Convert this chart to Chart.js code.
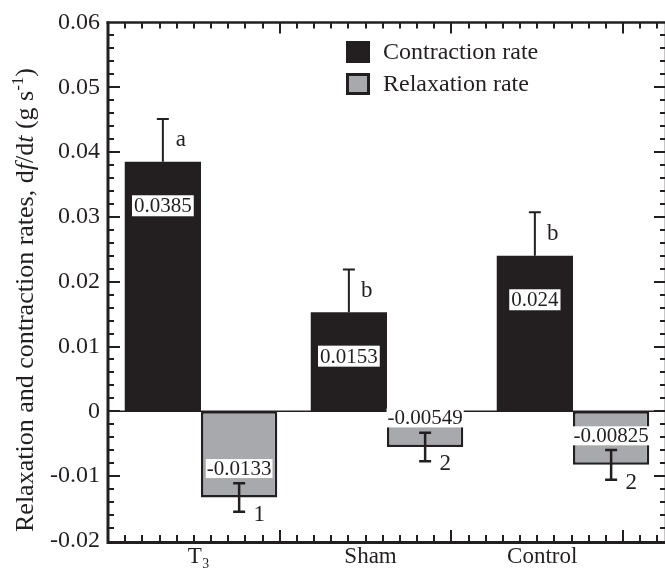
<!DOCTYPE html>
<html><head><meta charset="utf-8">
<script src="https://cdn.jsdelivr.net/npm/chart.js@4.4.1/dist/chart.umd.min.js"></script>
<style>html,body{margin:0;padding:0;overflow:hidden;background:#fff;width:665px;height:575px}
#wrap{position:relative;width:668px;height:575px}</style></head>
<body><div id="wrap"><canvas id="c" width="668" height="575"></canvas></div>
<script>
const categories = ['T\u2083', 'Sham', 'Control'];
const contractionRate = [0.0385, 0.0153, 0.024];
const contractionErr = [0.0066, 0.0066, 0.0067];
const relaxationRate = [-0.0133, -0.00549, -0.00825];
const relaxationErr = [0.0022, 0.0022, 0.0023];
const contractionLabels = ['0.0385', '0.0153', '0.024'];
const relaxationLabels = ['-0.0133', '-0.00549', '-0.00825'];
const contractionSig = ['a', 'b', 'b'];
const relaxationSig = ['1', '2', '2'];
const yTicks = [-0.02, -0.01, 0, 0.01, 0.02, 0.03, 0.04, 0.05, 0.06];
const xLabelPos = [0.5, 1.5, 2.5];

const INK = '#231f20';
const GRAY = '#a7a9ac';
const SERIF = '"Liberation Serif", "Times New Roman", serif';

function fmt(v){ const r = Math.round(v*100)/100; return r === 0 ? '0' : r.toFixed(2); }

const decor = {
  id: 'decor',
  afterDatasetsDraw(chart){
    const {ctx, chartArea: a, scales} = chart;
    const y = scales.y;
    ctx.save();
    ctx.strokeStyle = INK; ctx.fillStyle = INK;
    const y0 = y.getPixelForValue(0);
    ctx.lineWidth = 1.5;
    ctx.beginPath(); ctx.moveTo(a.left, y0); ctx.lineTo(a.right, y0); ctx.stroke();
    chart.data.datasets.forEach((ds, di) => {
      const meta = chart.getDatasetMeta(di);
      meta.data.forEach((el, i) => {
        const v = ds.data[i], e = ds.errors[i];
        const x = el.x;
        ctx.strokeStyle = INK; ctx.fillStyle = INK;
        if (v >= 0) {
          const yt = y.getPixelForValue(v + e);
          ctx.lineWidth = 2;
          ctx.beginPath(); ctx.moveTo(x, el.y); ctx.lineTo(x, yt);
          ctx.moveTo(x - 6, yt); ctx.lineTo(x + 6, yt); ctx.stroke();
          ctx.font = '23px ' + SERIF; ctx.textAlign = 'center'; ctx.textBaseline = 'middle';
          ctx.fillText(ds.sig[i], x + 18, (yt + el.y) / 2);
          ctx.font = '21px ' + SERIF;
          const w = ctx.measureText(ds.valueLabels[i]).width + 4;
          const cy = el.y + 44;
          ctx.fillStyle = '#fff'; ctx.fillRect(x - w/2, cy - 10.5, w, 21);
          ctx.fillStyle = INK; ctx.fillText(ds.valueLabels[i], x, cy + 1);
        } else {
          const yt = y.getPixelForValue(v + e), yb = y.getPixelForValue(v - e);
          ctx.font = '21px ' + SERIF; ctx.textAlign = 'center'; ctx.textBaseline = 'middle';
          const w = ctx.measureText(ds.valueLabels[i]).width + 2;
          const cy = el.y - 29;
          ctx.fillStyle = '#fff'; ctx.fillRect(x - w/2, cy - 9.5, w, 19);
          ctx.fillStyle = INK; ctx.fillText(ds.valueLabels[i], x, cy + 1);
          ctx.lineWidth = 2.5;
          ctx.beginPath(); ctx.moveTo(x, yt); ctx.lineTo(x, yb);
          ctx.moveTo(x - 6, yt); ctx.lineTo(x + 6, yt);
          ctx.moveTo(x - 6, yb); ctx.lineTo(x + 6, yb); ctx.stroke();
          ctx.font = '23px ' + SERIF;
          ctx.fillText(ds.sig[i], x + 20, yb + 3);
        }
      });
    });
    ctx.restore();
  },
  afterDraw(chart){
    const {ctx, chartArea: a, scales} = chart;
    const y = scales.y, xt = scales.xt;
    ctx.save();
    ctx.strokeStyle = INK; ctx.fillStyle = INK;
    ctx.lineWidth = 3;
    ctx.beginPath(); ctx.moveTo(a.left, a.top - 1); ctx.lineTo(a.left, a.bottom + 1.5); ctx.lineTo(a.right, a.bottom + 1.5); ctx.stroke();
    ctx.lineWidth = 2.5;
    ctx.beginPath(); ctx.moveTo(a.left - 1.5, a.top); ctx.lineTo(a.right, a.top); ctx.lineTo(a.right, a.bottom); ctx.stroke();
    ctx.lineWidth = 2;
    ctx.beginPath();
    for (let k = 1; k < 40; k++) {
      const v = -0.02 + k * 0.002;
      const py = Math.round(y.getPixelForValue(v));
      const len = (k % 5 === 0) ? 12 : 6;
      ctx.moveTo(a.left, py); ctx.lineTo(a.left + len, py);
      ctx.moveTo(a.right, py); ctx.lineTo(a.right - len, py);
    }
    for (let k = 1; k <= 32; k++) {
      const px = Math.round(xt.getPixelForValue(k * 0.1));
      const len = (k % 10 === 0) ? 11 : 6;
      ctx.moveTo(px, a.bottom); ctx.lineTo(px, a.bottom - len);
      ctx.moveTo(px, a.top); ctx.lineTo(px, a.top + len);
    }
    ctx.stroke();
    const ds = chart.data.datasets;
    const lx = a.left + 238;
    ctx.fillStyle = ds[0].backgroundColor; ctx.fillRect(lx, 41, 24, 22);
    ctx.fillStyle = ds[1].backgroundColor; ctx.fillRect(lx, 73, 24, 22);
    ctx.lineWidth = 3; ctx.strokeStyle = INK; ctx.strokeRect(lx + 1.5, 74.5, 21, 19);
    ctx.fillStyle = INK; ctx.font = '24px ' + SERIF; ctx.textAlign = 'left'; ctx.textBaseline = 'middle';
    ctx.fillText(ds[0].label, lx + 37, 53);
    ctx.fillText(ds[1].label, lx + 37, 85);
    const parts = [
      {t: 'Relaxation and contraction rates, d'}, {t: 'f', it: true}, {t: '/d'}, {t: 't', it: true},
      {t: ' (g s'}, {t: '-1', sup: true}, {t: ')'}
    ];
    const fs = 26;
    const fontOf = p => (p.it ? 'italic ' : '') + (p.sup ? Math.round(fs*0.65) : fs) + 'px ' + SERIF;
    let total = 0;
    parts.forEach(p => { ctx.font = fontOf(p); p.w = ctx.measureText(p.t).width; total += p.w; });
    ctx.translate(25, 300); ctx.rotate(-Math.PI / 2);
    let cx = -total / 2;
    ctx.textBaseline = 'alphabetic';
    parts.forEach(p => { ctx.font = fontOf(p); ctx.fillText(p.t, cx, p.sup ? 8 - fs*0.4 : 8); cx += p.w; });
    ctx.restore();
  }
};

new Chart(document.getElementById('c'), {
  type: 'bar',
  data: {
    labels: categories,
    datasets: [
      {label: 'Contraction rate', data: contractionRate, backgroundColor: INK, borderWidth: 0,
       errors: contractionErr, sig: contractionSig, valueLabels: contractionLabels, xAxisID: 'x', yAxisID: 'y'},
      {label: 'Relaxation rate', data: relaxationRate, backgroundColor: GRAY, borderColor: INK, borderWidth: 2.5, borderSkipped: false,
       errors: relaxationErr, sig: relaxationSig, valueLabels: relaxationLabels, xAxisID: 'x', yAxisID: 'y'}
    ]
  },
  options: {
    responsive: false, animation: false, devicePixelRatio: 1,
    layout: {padding: {top: 15, right: 2, left: 0, bottom: 0}},
    datasets: {bar: {categoryPercentage: 0.82, barPercentage: 1.0}},
    plugins: {legend: {display: false}, tooltip: {enabled: false}},
    scales: {
      x: {type: 'category', display: false},
      xt: {type: 'linear', position: 'bottom', min: 0, max: 3.25, offset: false,
        afterBuildTicks: s => { s.ticks = xLabelPos.map(v => ({value: v})); },
        afterFit: s => { s.height = 34; s.paddingLeft = 0; s.paddingRight = 0; },
        ticks: {callback: (v, i) => categories[i], font: {family: SERIF, size: 23}, color: INK, padding: 2, labelOffset: 5, autoSkip: false, maxRotation: 0},
        grid: {display: false, drawTicks: false, offset: false}, border: {display: false}},
      y: {min: -0.02, max: 0.06,
        afterBuildTicks: s => { s.ticks = yTicks.map(v => ({value: v})); },
        afterFit: s => { s.width = 108; },
        ticks: {callback: v => fmt(v), font: {family: SERIF, size: 24}, color: INK, padding: 8},
        grid: {display: false, drawTicks: false}, border: {display: false}}
    }
  },
  plugins: [decor]
});
</script></body></html>
